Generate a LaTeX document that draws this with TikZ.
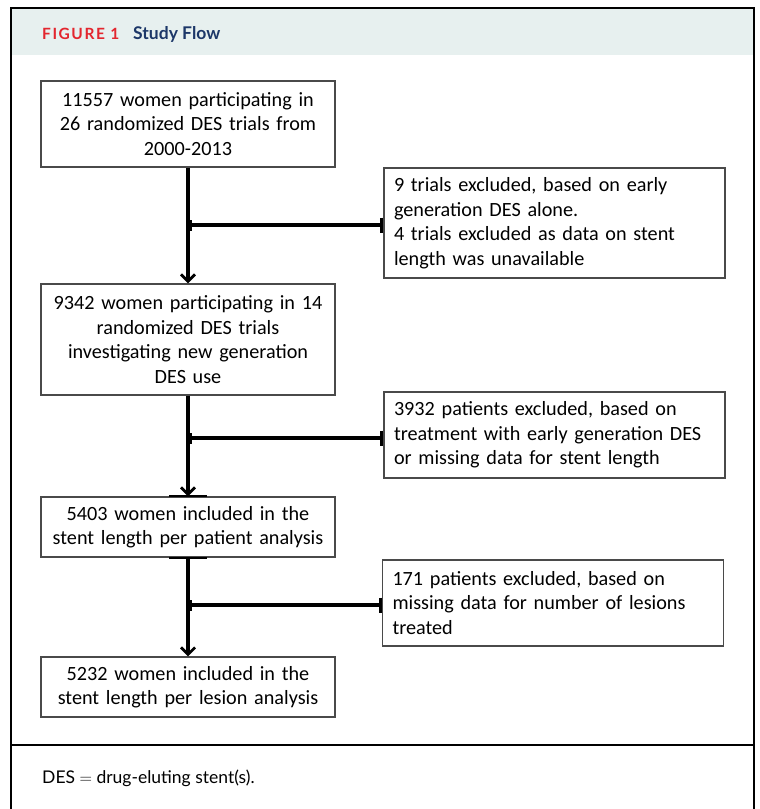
\documentclass[tikz,border=0pt]{standalone}
\usepackage{fontspec}
\setmainfont{Carlito}
\newfontfamily\latofont{Lato}
\newfontfamily\figfont[LetterSpace=10]{Lato}
\usetikzlibrary{arrows.meta,calc}
\definecolor{headfill}{HTML}{E7F0EF}
\definecolor{figred}{HTML}{E3262E}
\definecolor{navy}{HTML}{1C3768}
\definecolor{boxline}{HTML}{4A4A4A}
\tikzset{
  mainbox/.style={draw=boxline, line width=1.1pt, minimum width=294pt, text width=284pt,
    align=center, inner sep=0pt, font=\fontsize{20.2}{24.5}\selectfont},
  exclbox/.style={draw=boxline, line width=1.1pt, minimum width=341pt, text width=321pt,
    align=left, inner sep=0pt, font=\fontsize{20.2}{24.5}\selectfont},
  flow/.style={line width=3.2pt, -{Straight Barb[length=7pt,width=14pt,line width=2.8pt]}},
  branch/.style={line width=3.2pt, {Bar[width=11pt,line width=4pt]}-{Bar[width=15pt,line width=3.2pt]}},
  frame/.style={line width=2pt, draw=black}
}
\begin{document}
\begin{tikzpicture}[x=1pt,y=-1pt]
\useasboundingbox (0,0) rectangle (760,809);
% header band
\fill[headfill] (12,9) rectangle (753,55);
\draw[frame] (11,809) -- (11,8) -- (754,8) -- (754,809);
\draw[frame] (11,745) -- (754,745);
\node[anchor=base west, font=\figfont\bfseries\fontsize{15.5}{17}\selectfont, text=figred, inner sep=0pt] (figlabel) at (42,39.5) {FIGURE 1};
\node[anchor=base west, font=\latofont\bfseries\fontsize{17.5}{20}\selectfont, text=navy, inner sep=0pt] (figtitle) at (133,39.5) {Study Flow};

% main boxes
\node[mainbox, minimum height=86pt] (b1) at (188,124) {11557 women participating in\\26 randomized DES trials from\\2000-2013};
\node[mainbox, minimum height=111pt] (b2) at (188,339.5) {9342 women participating in 14\\randomized DES trials\\investigating new generation\\DES use};
\node[mainbox, minimum height=60pt] (b3) at (188,527) {5403 women included in the\\stent length per patient analysis};
\node[mainbox, minimum height=60pt] (b4) at (188,687) {5232 women included in the\\stent length per lesion analysis};

% exclusion boxes
\node[exclbox, minimum height=110pt] (e1) at (554.5,223) {9 trials excluded, based on early\\generation DES alone.\\4 trials excluded as data on stent\\length was unavailable};
\node[exclbox, minimum height=86pt] (e2) at (554.5,435) {3932 patients excluded, based on\\treatment with early generation DES\\or missing data for stent length};
\node[exclbox, minimum height=86pt] (e3) at (553,603) {171 patients excluded, based on\\missing data for number of lesions\\treated};

% dark segments on box 3 edges
\draw[line width=2pt] ($(b3.north)+(-19,0)$) -- ($(b3.north)+(19,0)$);
\draw[line width=2pt] ($(b3.south)+(-19,0)$) -- ($(b3.south)+(19,0)$);

% flow arrows
\draw[flow] (b1.south) -- (b2.north);
\draw[flow] (b2.south) -- (b3.north);
\draw[flow] (b3.south) -- (b4.north);

% branches
\coordinate (j1) at (188,225);
\coordinate (j2) at (188,438);
\coordinate (j3) at (188,605);
\draw[branch] (j1) -- (j1 -| e1.west);
\draw[branch] (j2) -- (j2 -| e2.west);
\draw[branch] (j3) -- (j3 -| e3.west);

% footer
\node[anchor=base west, font=\latofont\fontsize{17.5}{20}\selectfont, inner sep=0pt] (foot) at (42,783) {DES $=$ drug-eluting stent(s).};
\end{tikzpicture}
\end{document}
